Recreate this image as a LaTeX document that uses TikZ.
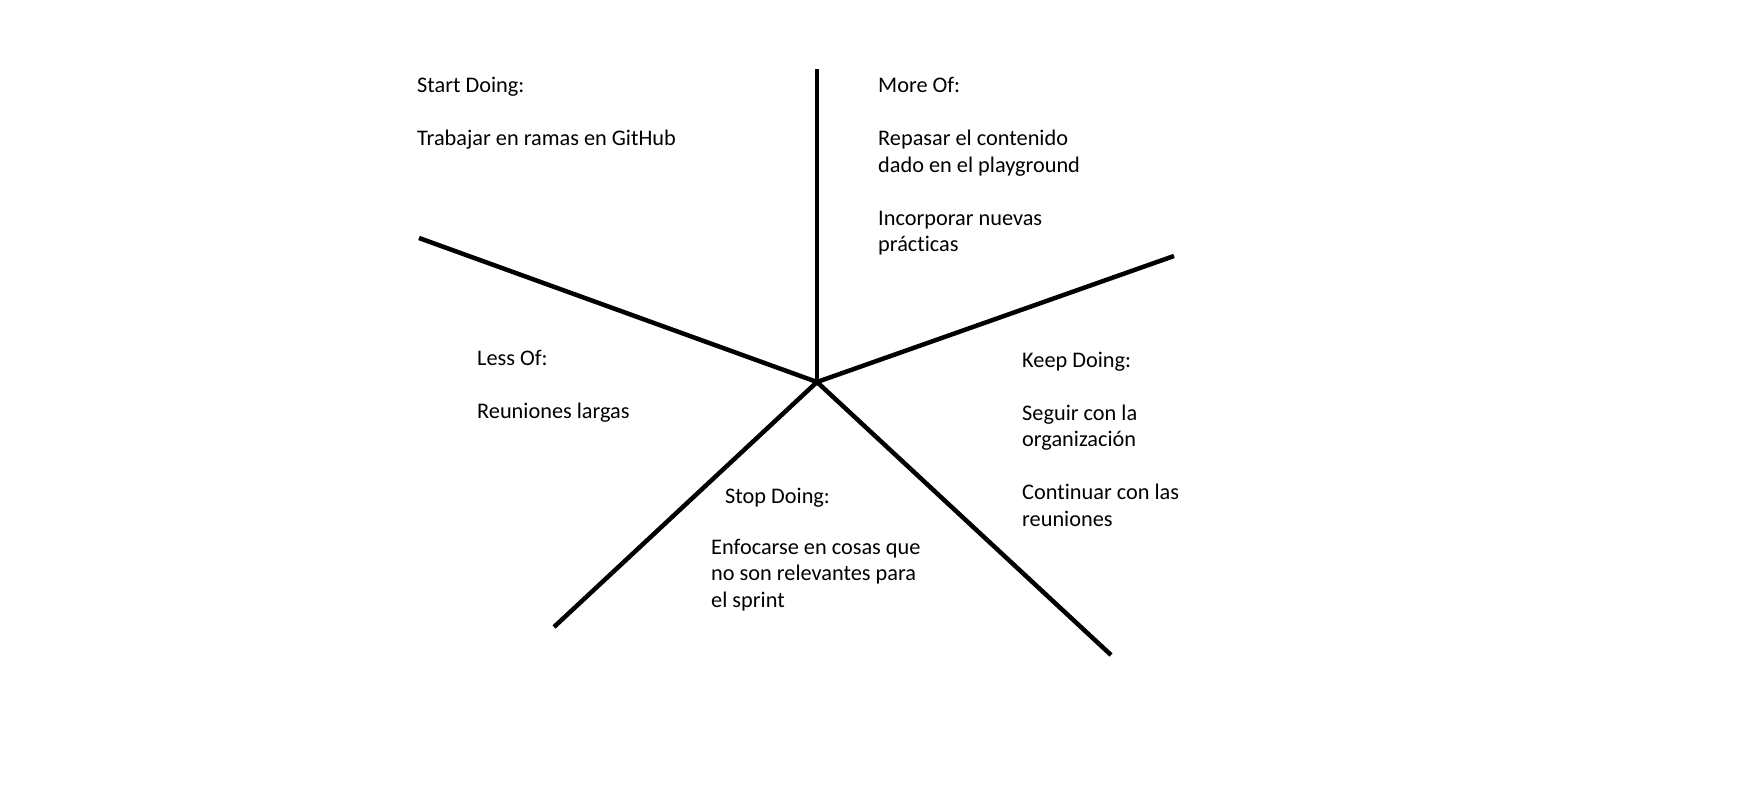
\documentclass[tikz,border=0pt]{standalone}
\usepackage{fontspec}
\setmainfont[Ligatures=NoCommon]{Carlito}
\begin{document}
\begin{tikzpicture}[x=1pt,y=-1pt,
  spoke/.style={line width=4.5pt,black},
  lbl/.style={anchor=base west,inner sep=0pt,align=left,font=\fontsize{22.3pt}{26.5pt}\selectfont}]
\useasboundingbox (0,0) rectangle (1747,799);
\fill[white] (0,0) rectangle (1747,799);
\coordinate (c) at (817,382);
\coordinate (top) at (817,69);
\coordinate (ul) at (419,238);
\coordinate (ur) at (1174,256);
\coordinate (ll) at (554,627);
\coordinate (lr) at (1111,655);
\draw[spoke] (c) -- (top);
\draw[spoke] (c) -- (ul);
\draw[spoke] (c) -- (ur);
\draw[spoke] (c) -- (ll);
\draw[spoke] (c) -- (lr);
% base anchor = baseline of the last line
\node[lbl] (start) at (417,146) {Start Doing:\\[26.5pt]Trabajar en ramas en GitHub};
\node[lbl] (more) at (878,252) {More Of:\\[26.5pt]Repasar el contenido\\dado en el playground\\[26.5pt]Incorporar nuevas\\prácticas};
\node[lbl] (less) at (477,418) {Less Of:\\[26.5pt]Reuniones largas};
\node[lbl] (keep) at (1022,526) {Keep Doing:\\[26.5pt]Seguir con la\\organización\\[26.5pt]Continuar con las\\reuniones};
\node[lbl] (stop) at (725,503) {Stop Doing:};
\node[lbl] (stopb) at (711,607) {Enfocarse en cosas que\\no son relevantes para\\el sprint};
\end{tikzpicture}
\end{document}
